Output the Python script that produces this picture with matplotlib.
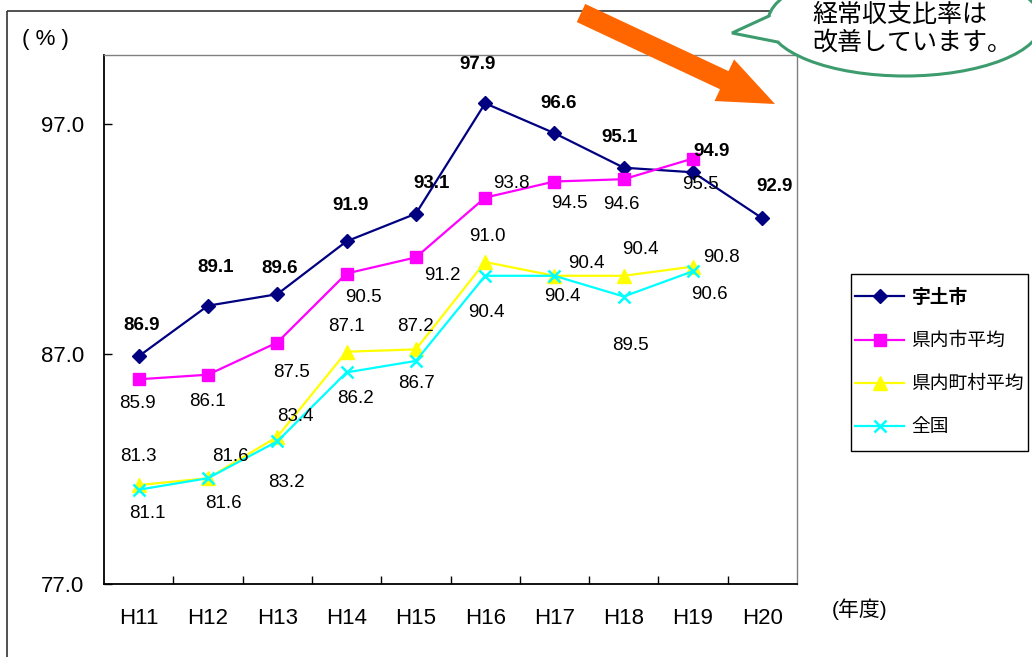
import numpy as np
import matplotlib
matplotlib.use('Agg')
import matplotlib.pyplot as plt
import matplotlib.patches as mpatches
from matplotlib.lines import Line2D

plt.rcParams['font.family'] = ['Liberation Sans', 'Noto Sans CJK JP']

# 年度と各系列の経常収支比率(%)
years = ['H11', 'H12', 'H13', 'H14', 'H15', 'H16', 'H17', 'H18', 'H19', 'H20']
uto = [86.9, 89.1, 89.6, 91.9, 93.1, 97.9, 96.6, 95.1, 94.9, 92.9]
ken_shi = [85.9, 86.1, 87.5, 90.5, 91.2, 93.8, 94.5, 94.6, 95.5]
ken_choson = [81.3, 81.6, 83.4, 87.1, 87.2, 91.0, 90.4, 90.4, 90.8]
zenkoku = [81.1, 81.6, 83.2, 86.2, 86.7, 90.4, 90.4, 89.5, 90.6]
series_names = ['宇土市', '県内市平均', '県内町村平均', '全国']
y_ticks = [77.0, 87.0, 97.0]

# ラベルのずらし量(ピクセル、右・上が正)
off_uto = [(3, 31), (8, 38), (2, 26), (4, 36), (16, 30), (-8, 39), (4, 30), (-4, 30), (19, 21), (12, 32)]
off_shi = [(-1, -24), (-1, -27), (14, -30), (17, -24), (27, -18), (26, 14), (15, -22), (-2, -25), (7, -26)]
off_cho = [(0, 29), (22, 22), (18, 20), (0, 25), (0, 23), (2, 25), (32, 12), (17, 26), (28, 9)]
off_zen = [(9, -24), (15, -25), (9, -41), (9, -26), (1, -23), (1, -37), (8, -21), (7, -49), (16, -23)]

W, H = 1032, 657
fig = plt.figure(figsize=(W / 100, H / 100), dpi=100)
ax = fig.add_axes([104 / W, 1 - 584 / H, 693 / W, 529 / H])

styles = [
    dict(color='#000080', marker='D', ms=7.5),
    dict(color='#FF00FF', marker='s', ms=8.5),
    dict(color='#FFFF00', marker='^', ms=10),
    dict(color='#00FFFF', marker='x', ms=9, mew=1.8),
]
data = [uto, ken_shi, ken_choson, zenkoku]
offsets = [off_uto, off_shi, off_cho, off_zen]

x = np.arange(len(years))
for vals, st, offs, k in zip(data, styles, offsets, range(4)):
    xs = x[:len(vals)]
    ax.plot(xs, vals, lw=1.6, **st)
    for xi, v, (dx, dy) in zip(xs, vals, offs):
        ax.annotate(f'{v:.1f}', (xi, v), xytext=(dx, dy), textcoords='offset pixels',
                    ha='center', va='center', fontsize=13.5,
                    fontweight='bold' if k == 0 else 'normal', color='black')

ax.set_xlim(-0.5, 9.5)
ax.set_ylim(77, 100)
ax.set_yticks(y_ticks)
ax.set_yticklabels([f'{t:.1f}' for t in y_ticks])
ax.set_xticks(x)
ax.set_xticklabels(years)
ax.set_xticks(np.arange(0.5, 9, 1), minor=True)
ax.tick_params(axis='x', which='major', length=0, pad=17, labelsize=16)
ax.tick_params(axis='x', which='minor', direction='in', length=6, width=1)
ax.tick_params(axis='y', direction='in', length=6, width=1, pad=14, labelsize=16)
for s in ['left', 'bottom']:
    ax.spines[s].set_color('black')
    ax.spines[s].set_linewidth(1.3)
for s in ['top', 'right']:
    ax.spines[s].set_color('#808080')
    ax.spines[s].set_linewidth(1.0)

# 凡例(枠は別に描く)
handles = [Line2D([], [], lw=1.6, **st) for st in styles]
leg = fig.legend(handles, series_names, loc='center',
                 bbox_to_anchor=(939.5 / W, 1 - 362.5 / H),
                 frameon=False, fontsize=13.5, handlelength=2.6, handletextpad=0.4,
                 labelspacing=1.38, borderpad=0)
leg.get_texts()[0].set_fontweight('bold')

# 外枠・吹き出し・矢印用の重ね描き
ov = fig.add_axes([0, 0, 1, 1])
ov.set_xlim(0, W)
ov.set_ylim(H, 0)
ov.axis('off')
ov.patch.set_alpha(0)

ov.add_patch(mpatches.Rectangle((7, 11), 1100, 700, fill=False, ec='#333333', lw=1.2))
ov.add_patch(mpatches.Rectangle((851, 274), 177, 177, fill=False, ec='black', lw=1.0))

ov.text(45, 40, '( % )', fontsize=16, ha='center', va='center')
ov.text(860, 609, '(年度)', fontsize=15, ha='center', va='center')

ov.add_patch(mpatches.FancyArrow(581, 13, 194, 91, width=20, head_width=46, head_length=56,
                                 length_includes_head=True, color='#FF6600', lw=0))

green = '#3D9C6E'
cx, cy, a, b = 905, 22, 137, 54
ov.add_patch(mpatches.Ellipse((cx, cy), 2 * a, 2 * b, fc='white', ec=green, lw=2.2))
tip = (732, 33)
t1, t2 = np.pi + 0.11, np.pi - 0.38
b1 = (cx + a * np.cos(t1), cy + b * np.sin(t1))
b2 = (cx + a * np.cos(t2), cy + b * np.sin(t2))
ts = np.linspace(t1, t2, 20)
inner = np.column_stack([cx + (a - 4) * np.cos(ts), cy + (b - 4) * np.sin(ts)])
poly = np.vstack([tip, b1, inner, b2])
ov.add_patch(mpatches.Polygon(poly, closed=True, fc='white', ec='none'))
ov.plot([b1[0], tip[0], b2[0]], [b1[1], tip[1], b2[1]], color=green, lw=2.2, solid_joinstyle='miter')
ov.text(812, 15, '経常収支比率は', fontsize=18, ha='left', va='center')
ov.text(812, 43, '改善しています。', fontsize=18, ha='left', va='center')

fig.savefig('out.png', dpi=100)
